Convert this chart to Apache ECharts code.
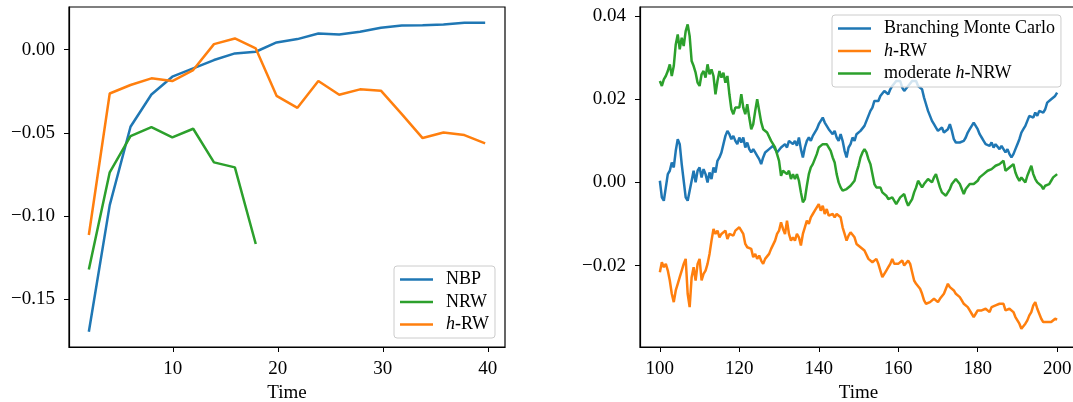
<!DOCTYPE html>
<html>
<head>
<meta charset="utf-8">
<script src="https://cdn.jsdelivr.net/npm/echarts@6/dist/echarts.min.js"></script>
<style>
html,body{margin:0;padding:0;background:#fff;}
#chart{width:1073px;height:402px;}
</style>
</head>
<body>
<div id="chart"></div>
<script>
// ---------- Left panel data ----------
const leftTimes = [2.00,3.99,5.97,7.96,9.95,11.94,13.92,15.91,17.90,19.88,21.87,23.86,25.85,27.83,29.82,31.81,33.79,35.78,37.77,39.75];
const nbpValues = [-0.1695,-0.0934,-0.0463,-0.0269,-0.0162,-0.0112,-0.0062,-0.0022,-0.0012,0.0044,0.0064,0.0098,0.0092,0.0108,0.0132,0.0146,0.0148,0.0152,0.0162,0.0162];
const nrwValues = [-0.1321,-0.0737,-0.0519,-0.0465,-0.0527,-0.0475,-0.0677,-0.0707,-0.1168];
const hrwLeftValues = [-0.1114,-0.0263,-0.0212,-0.0172,-0.0188,-0.0122,0.0034,0.0068,0.0008,-0.0277,-0.0349,-0.0188,-0.0271,-0.0238,-0.0246,-0.0387,-0.0531,-0.0497,-0.0513,-0.0563];
const leftXTicks = [10,20,30,40];
const leftYTicks = [-0.15,-0.10,-0.05,0.00];
const leftNames = ['NBP','NRW','h-RW'];

// ---------- Right panel data ----------
const rightTimes = [
100,100.5,101,101.5,102,102.5,103,103.5,104,104.5,
105,105.5,106,106.5,107,107.5,108,108.5,109,109.5,
110,110.5,111,111.5,112,112.5,113,113.5,114,114.5,
115,115.5,116,116.5,117,117.5,118,118.5,119,119.5,
120,120.5,121,121.5,122,122.5,123,123.5,124,124.5,
125,125.5,126,126.5,127,127.5,128,128.5,129,129.5,
130,130.5,131,131.5,132,132.5,133,133.5,134,134.5,
135,135.5,136,136.5,137,137.5,138,138.5,139,139.5,
140,140.5,141,141.5,142,142.5,143,143.5,144,144.5,
145,145.5,146,146.5,147,147.5,148,148.5,149,149.5,
150,150.5,151,151.5,152,152.5,153,153.5,154,154.5,
155,155.5,156,156.5,157,157.5,158,158.5,159,159.5,
160,160.5,161,161.5,162,162.5,163,163.5,164,164.5,
165,165.5,166,166.5,167,167.5,168,168.5,169,169.5,
170,170.5,171,171.5,172,172.5,173,173.5,174,174.5,
175,175.5,176,176.5,177,177.5,178,178.5,179,179.5,
180,180.5,181,181.5,182,182.5,183,183.5,184,184.5,
185,185.5,186,186.5,187,187.5,188,188.5,189,189.5,
190,190.5,191,191.5,192,192.5,193,193.5,194,194.5,
195,195.5,196,196.5,197,197.5,198,198.5,199,199.5,
200];
const bmcValues = [
0.4e-3,-3.6e-3,-4.4e-3,-1.2e-3,2.0e-3,2.8e-3,4.8e-3,3.6e-3,7.6e-3,10.4e-3,
9.2e-3,4.4e-3,0.4e-3,-3.6e-3,-4.4e-3,-2.0e-3,0.4e-3,2.8e-3,0.0e-3,2.8e-3,
3.6e-3,1.2e-3,3.2e-3,2.0e-3,0.0e-3,2.4e-3,0.8e-3,3.6e-3,2.4e-3,5.2e-3,
6.0e-3,7.2e-3,9.2e-3,11.2e-3,12.4e-3,11.6e-3,10.4e-3,11.2e-3,10.0e-3,9.2e-3,
10.8e-3,9.6e-3,10.8e-3,8.4e-3,9.6e-3,8.0e-3,7.2e-3,8.0e-3,7.2e-3,6.4e-3,
5.6e-3,4.4e-3,6.0e-3,7.2e-3,6.8e-3,8.0e-3,7.6e-3,8.8e-3,8.0e-3,7.2e-3,
6.8e-3,8.4e-3,8.0e-3,9.2e-3,8.4e-3,10.0e-3,10.4e-3,9.2e-3,10.0e-3,8.8e-3,
10.8e-3,8.0e-3,6.0e-3,8.4e-3,10.0e-3,10.8e-3,10.0e-3,11.2e-3,11.6e-3,12.8e-3,
14.0e-3,14.4e-3,15.6e-3,14.4e-3,13.6e-3,12.8e-3,13.2e-3,11.6e-3,12.4e-3,10.8e-3,
10.0e-3,11.6e-3,10.0e-3,7.6e-3,6.0e-3,8.4e-3,9.2e-3,10.8e-3,10.0e-3,11.6e-3,
11.2e-3,12.4e-3,12.0e-3,13.6e-3,13.2e-3,16.0e-3,17.2e-3,18.0e-3,19.6e-3,19.2e-3,
19.6e-3,20.8e-3,20.4e-3,22.0e-3,21.6e-3,21.2e-3,22.4e-3,23.2e-3,23.6e-3,24.4e-3,
24.0e-3,24.4e-3,22.8e-3,22.0e-3,22.4e-3,23.2e-3,23.6e-3,24.4e-3,24.0e-3,24.4e-3,
23.2e-3,23.2e-3,22.4e-3,20.4e-3,18.8e-3,17.2e-3,16.0e-3,14.8e-3,14.0e-3,13.2e-3,
12.4e-3,12.0e-3,13.2e-3,12.0e-3,11.6e-3,12.8e-3,14.0e-3,12.4e-3,10.4e-3,9.6e-3,
9.2e-3,9.6e-3,9.2e-3,10.0e-3,10.8e-3,12.0e-3,12.8e-3,13.6e-3,14.4e-3,13.6e-3,
12.8e-3,11.6e-3,10.8e-3,10.0e-3,9.2e-3,9.6e-3,8.8e-3,9.6e-3,8.4e-3,9.2e-3,
8.8e-3,8.0e-3,8.8e-3,8.0e-3,7.2e-3,8.0e-3,6.8e-3,6.0e-3,6.8e-3,8.0e-3,
9.2e-3,10.4e-3,12.0e-3,12.8e-3,13.6e-3,14.8e-3,16.0e-3,16.4e-3,15.6e-3,16.8e-3,
16.0e-3,17.2e-3,17.6e-3,16.8e-3,17.6e-3,19.2e-3,19.2e-3,20.0e-3,20.4e-3,20.8e-3,
21.6e-3];
const hrwRightValues = [
-21.6e-3,-19.2e-3,-20.4e-3,-19.6e-3,-21.2e-3,-23.6e-3,-26.8e-3,-28.8e-3,-26.0e-3,-24.4e-3,
-22.8e-3,-21.2e-3,-19.6e-3,-18.4e-3,-26.8e-3,-30.0e-3,-22.8e-3,-20.4e-3,-23.6e-3,-19.6e-3,
-18.4e-3,-23.6e-3,-22.0e-3,-21.2e-3,-19.6e-3,-17.2e-3,-14.0e-3,-11.2e-3,-12.4e-3,-11.6e-3,
-13.2e-3,-12.4e-3,-12.8e-3,-11.6e-3,-13.6e-3,-12.4e-3,-12.0e-3,-12.8e-3,-11.6e-3,-11.2e-3,
-10.8e-3,-10.4e-3,-12.4e-3,-14.8e-3,-15.6e-3,-15.2e-3,-16.0e-3,-18.0e-3,-17.2e-3,-18.4e-3,
-17.6e-3,-18.8e-3,-19.6e-3,-18.4e-3,-18.8e-3,-17.2e-3,-16.0e-3,-15.6e-3,-14.0e-3,-12.4e-3,
-11.6e-3,-9.6e-3,-11.2e-3,-12.4e-3,-9.2e-3,-12.4e-3,-14.0e-3,-13.2e-3,-14.0e-3,-12.4e-3,
-13.2e-3,-15.2e-3,-12.4e-3,-10.8e-3,-9.2e-3,-10.0e-3,-8.4e-3,-7.6e-3,-6.8e-3,-6.0e-3,
-5.2e-3,-6.8e-3,-5.6e-3,-7.6e-3,-6.4e-3,-8.0e-3,-8.4e-3,-7.6e-3,-8.4e-3,-7.6e-3,
-8.0e-3,-8.4e-3,-10.8e-3,-12.4e-3,-14.0e-3,-12.8e-3,-12.0e-3,-11.6e-3,-13.2e-3,-14.8e-3,
-15.2e-3,-15.6e-3,-16.0e-3,-16.4e-3,-16.8e-3,-18.4e-3,-18.8e-3,-19.2e-3,-18.8e-3,-18.4e-3,
-19.6e-3,-21.2e-3,-22.8e-3,-22.0e-3,-21.2e-3,-20.4e-3,-19.6e-3,-18.4e-3,-19.6e-3,-20.0e-3,
-19.6e-3,-19.2e-3,-18.8e-3,-20.0e-3,-19.6e-3,-18.8e-3,-19.6e-3,-21.6e-3,-23.6e-3,-24.4e-3,
-24.8e-3,-25.6e-3,-26.8e-3,-28.4e-3,-29.2e-3,-29.6e-3,-28.8e-3,-28.4e-3,-28.0e-3,-28.4e-3,
-28.8e-3,-28.0e-3,-27.6e-3,-26.8e-3,-25.6e-3,-24.4e-3,-25.2e-3,-25.6e-3,-26.0e-3,-26.8e-3,
-27.2e-3,-27.6e-3,-28.4e-3,-29.2e-3,-29.6e-3,-30.0e-3,-30.8e-3,-31.6e-3,-32.4e-3,-31.6e-3,
-30.8e-3,-30.4e-3,-30.8e-3,-31.2e-3,-30.4e-3,-30.8e-3,-31.2e-3,-30.0e-3,-29.6e-3,-29.6e-3,
-29.2e-3,-29.2e-3,-28.8e-3,-29.2e-3,-30.8e-3,-31.2e-3,-30.4e-3,-30.0e-3,-31.2e-3,-32.4e-3,
-33.2e-3,-34.0e-3,-35.2e-3,-34.8e-3,-34.0e-3,-33.2e-3,-32.0e-3,-31.2e-3,-29.6e-3,-28.8e-3,
-30.4e-3,-31.6e-3,-32.8e-3,-33.6e-3,-34.0e-3,-33.6e-3,-33.2e-3,-33.6e-3,-33.2e-3,-32.8e-3,
-33.0e-3];
const nrwModValues = [
24.4e-3,23.2e-3,24.8e-3,25.6e-3,26.8e-3,28.4e-3,25.6e-3,28.0e-3,33.2e-3,35.6e-3,
32.0e-3,34.8e-3,32.8e-3,36.4e-3,38.0e-3,35.2e-3,29.2e-3,28.0e-3,26.4e-3,24.0e-3,
23.2e-3,26.0e-3,26.8e-3,25.2e-3,28.4e-3,26.0e-3,27.2e-3,25.6e-3,21.2e-3,24.4e-3,
26.8e-3,25.2e-3,26.4e-3,24.0e-3,25.6e-3,21.2e-3,17.6e-3,16.4e-3,18.0e-3,18.4e-3,
18.0e-3,21.2e-3,18.0e-3,16.4e-3,18.8e-3,15.6e-3,12.8e-3,14.0e-3,17.2e-3,20.0e-3,
19.6e-3,14.5e-3,12.8e-3,12.8e-3,12.0e-3,11.6e-3,10.0e-3,9.2e-3,8.4e-3,6.8e-3,
5.2e-3,1.6e-3,2.8e-3,3.2e-3,2.0e-3,2.8e-3,0.8e-3,2.0e-3,0.8e-3,2.0e-3,
0.4e-3,-2.4e-3,-4.8e-3,-4.0e-3,-0.8e-3,2.0e-3,3.6e-3,4.4e-3,5.6e-3,6.8e-3,
8.4e-3,8.4e-3,9.2e-3,8.8e-3,9.2e-3,9.2e-3,7.6e-3,6.0e-3,4.8e-3,2.0e-3,
0.0e-3,-1.2e-3,-2.0e-3,-2.4e-3,-1.6e-3,-2.0e-3,-0.8e-3,-0.4e-3,0.4e-3,2.4e-3,
4.0e-3,6.0e-3,7.2e-3,8.0e-3,7.2e-3,5.6e-3,4.4e-3,2.0e-3,-0.4e-3,-1.2e-3,
-1.6e-3,-1.2e-3,-2.4e-3,-2.8e-3,-3.2e-3,-4.0e-3,-4.4e-3,-3.6e-3,-4.0e-3,-5.2e-3,
-4.8e-3,-3.6e-3,-3.2e-3,-2.8e-3,-4.4e-3,-5.6e-3,-6.0e-3,-4.0e-3,-2.4e-3,-1.2e-3,
0.4e-3,0.0e-3,-1.2e-3,-0.4e-3,0.0e-3,0.8e-3,1.2e-3,0.0e-3,1.2e-3,2.0e-3,
0.4e-3,-1.2e-3,-2.4e-3,-2.8e-3,-3.2e-3,-3.6e-3,-1.6e-3,-0.4e-3,0.0e-3,0.8e-3,
1.2e-3,-0.4e-3,-1.6e-3,-2.8e-3,-1.6e-3,-1.2e-3,-0.4e-3,0.0e-3,-0.4e-3,0.0e-3,
0.4e-3,1.2e-3,1.6e-3,2.0e-3,2.4e-3,2.8e-3,2.4e-3,3.2e-3,3.6e-3,4.0e-3,
3.6e-3,4.4e-3,4.8e-3,5.2e-3,2.8e-3,3.2e-3,3.6e-3,4.0e-3,4.4e-3,2.4e-3,
1.2e-3,0.4e-3,1.2e-3,0.8e-3,0.0e-3,1.6e-3,2.8e-3,4.0e-3,2.0e-3,0.8e-3,
0.0e-3,0.0e-3,-0.8e-3,-1.6e-3,-0.8e-3,-0.8e-3,-0.4e-3,0.4e-3,1.2e-3,1.6e-3,
2.0e-3];
const rightXTicks = [100,120,140,160,180,200];
const rightYTicks = [-0.02,0.00,0.02,0.04];
const rightNames = ['Branching Monte Carlo','h-RW','moderate h-NRW'];

// ---------- Build chart ----------
const FONT = 'Liberation Serif';
const BLUE = '#1f77b4', ORANGE = '#ff7f0e', GREEN = '#2ca02c';
function pairs(xs, ys){ return ys.map((y,i)=>[xs[i], y]); }
function fmtY(v){ const s = Math.abs(v).toFixed(2); return (v < -1e-9 ? '\u2212' : '') + s; }
function legendFmt(name){
  if (name === 'h-RW') return '{i|h}-RW';
  if (name === 'moderate h-NRW') return 'moderate {i|h}-NRW';
  return name;
}
const labelStyle = {color:'#000', fontFamily:FONT, fontSize:19};
function xAxis(gi, min, max, ticks){
  return {
    type:'value', gridIndex:gi, min:min, max:max,
    name:'Time', nameLocation:'middle', nameGap:37,
    nameTextStyle:{color:'#000', fontFamily:FONT, fontSize:19},
    axisLine:{show:true, onZero:false, lineStyle:{color:'#000', width:1.2}},
    axisTick:{show:true, length:5, customValues:ticks, lineStyle:{color:'#000', width:1}},
    axisLabel:Object.assign({customValues:ticks, margin:13, formatter:v=>String(v)}, labelStyle),
    splitLine:{show:false}
  };
}
function yAxis(gi, min, max, ticks){
  return {
    type:'value', gridIndex:gi, min:min, max:max,
    axisLine:{show:true, onZero:false, lineStyle:{color:'#000', width:1.2}},
    axisTick:{show:true, length:5, customValues:ticks, lineStyle:{color:'#000', width:1}},
    axisLabel:Object.assign({customValues:ticks, margin:14, formatter:fmtY}, labelStyle),
    splitLine:{show:false}
  };
}
function legend(names, left, top){
  return {
    data:names, left:left, top:top, orient:'vertical', align:'left',
    icon:'rect', itemWidth:33, itemHeight:2.6, itemGap:4.5,
    padding:[4.5, 6, 4.5, 6],
    backgroundColor:'rgba(255,255,255,0.8)', borderColor:'#cccccc', borderWidth:1, borderRadius:3,
    formatter:legendFmt,
    textStyle:{color:'#000', fontFamily:FONT, fontSize:18, lineHeight:18, padding:[0,0,0,8],
      rich:{i:{fontStyle:'italic', fontFamily:FONT, fontSize:18, lineHeight:18, color:'#000'}}},
    selectedMode:false
  };
}
function line(name, color, xi, yi, data){
  return {name:name, type:'line', xAxisIndex:xi, yAxisIndex:yi, data:data,
    showSymbol:false, symbol:'none', lineStyle:{color:color, width:2.5}, itemStyle:{color:color},
    emphasis:{disabled:true}, animation:false};
}
const gridBase = {top:7, bottom:55, show:true, borderColor:'#000', borderWidth:1.2, backgroundColor:'transparent', containLabel:false, outerBoundsMode:'none'};
const option = {
  backgroundColor:'#fff',
  animation:false,
  grid:[
    Object.assign({left:69, right:568}, gridBase),
    Object.assign({left:640, right:-4}, gridBase)
  ],
  xAxis:[ xAxis(0, 0.11, 41.64, leftXTicks), xAxis(1, 95, 205, rightXTicks) ],
  yAxis:[ yAxis(0, -0.1787, 0.0257, leftYTicks), yAxis(1, -0.0396, 0.0422, rightYTicks) ],
  legend:[ legend(leftNames, 394, 266), legend(rightNames, 832, 15) ],
  series:[
    line('NBP', BLUE, 0, 0, pairs(leftTimes, nbpValues)),
    line('NRW', GREEN, 0, 0, pairs(leftTimes, nrwValues)),
    line('h-RW', ORANGE, 0, 0, pairs(leftTimes, hrwLeftValues)),
    line('Branching Monte Carlo', BLUE, 1, 1, pairs(rightTimes, bmcValues)),
    line('h-RW', ORANGE, 1, 1, pairs(rightTimes, hrwRightValues)),
    line('moderate h-NRW', GREEN, 1, 1, pairs(rightTimes, nrwModValues))
  ]
};
const chart = echarts.init(document.getElementById('chart'), null, {renderer:'canvas'});
chart.setOption(option);
</script>
</body>
</html>
